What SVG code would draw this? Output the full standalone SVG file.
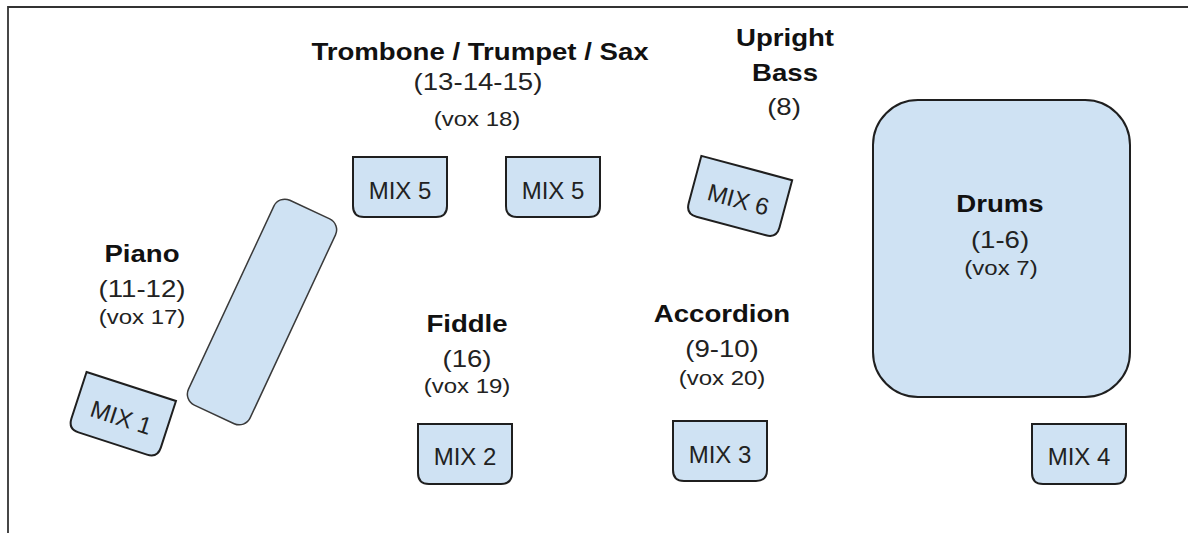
<svg xmlns="http://www.w3.org/2000/svg" width="1188" height="533" viewBox="0 0 1188 533">
<style>
.bg{fill:#ffffff}
.frame{fill:none;stroke:#333333;stroke-width:1.8}
.shape{fill:#cfe2f3;stroke:#1f1f1f;stroke-width:2}
.piano{fill:#cfe2f3;stroke:#3a3a3a;stroke-width:1.5}
.mix{font-family:"Liberation Sans",Arial,sans-serif;font-size:24px;fill:#222222;text-anchor:middle}
.b{font-family:"Liberation Sans",Arial,sans-serif;font-size:23px;font-weight:bold;fill:#111111;text-anchor:middle}
.r{font-family:"Liberation Sans",Arial,sans-serif;font-size:23px;fill:#222222;text-anchor:middle}
.v{font-family:"Liberation Sans",Arial,sans-serif;font-size:20px;fill:#222222;text-anchor:middle}
</style>
<defs>
<path id="wedge" d="M -47,-30 H 47 V 19 Q 47,30 36,30 H -36 Q -47,30 -47,19 Z"/>
</defs>
<rect class="bg" x="0" y="0" width="1188" height="533"/>
<path class="frame" d="M 8,533 V 7 H 1188"/>
<g id="connectors"/>

<g id="trombone-label">
<text class="b" transform="translate(480,60) scale(1.2,1)">Trombone / Trumpet / Sax</text>
<text class="r" transform="translate(478,90) scale(1.2,1)">(13-14-15)</text>
<text class="v" transform="translate(477,126) scale(1.2,1)">(vox 18)</text>
</g>
<g id="bass-label">
<text class="b" transform="translate(785,46) scale(1.2,1)">Upright</text>
<text class="b" transform="translate(785,81) scale(1.2,1)">Bass</text>
<text class="r" transform="translate(784,115) scale(1.2,1)">(8)</text>
</g>
<g id="piano-label">
<text class="b" transform="translate(142,262) scale(1.2,1)">Piano</text>
<text class="r" transform="translate(142,297) scale(1.2,1)">(11-12)</text>
<text class="v" transform="translate(142,324) scale(1.2,1)">(vox 17)</text>
</g>
<g id="fiddle-label">
<text class="b" transform="translate(467,332) scale(1.2,1)">Fiddle</text>
<text class="r" transform="translate(467,367) scale(1.2,1)">(16)</text>
<text class="v" transform="translate(467,393) scale(1.2,1)">(vox 19)</text>
</g>
<g id="accordion-label">
<text class="b" transform="translate(722,322) scale(1.2,1)">Accordion</text>
<text class="r" transform="translate(722,357) scale(1.2,1)">(9-10)</text>
<text class="v" transform="translate(722,385) scale(1.2,1)">(vox 20)</text>
</g>

<g id="drums">
<rect class="shape" x="873" y="100" width="257" height="297" rx="45"/>
<text class="b" transform="translate(1000,212) scale(1.2,1)">Drums</text>
<text class="r" transform="translate(1000,248) scale(1.2,1)">(1-6)</text>
<text class="v" transform="translate(1001,275) scale(1.2,1)">(vox 7)</text>
</g>

<g id="piano">
<rect class="piano" x="-34" y="-113" width="68" height="226" rx="12" transform="translate(262,312) rotate(25)"/>
</g>

<g id="mix1" transform="translate(122,415) rotate(18)">
<use href="#wedge" class="shape"/>
<text class="mix" x="0" y="11">MIX 1</text>
</g>
<g id="mix5a" transform="translate(400,187)">
<use href="#wedge" class="shape"/>
<text class="mix" x="0" y="12">MIX 5</text>
</g>
<g id="mix5b" transform="translate(553,187)">
<use href="#wedge" class="shape"/>
<text class="mix" x="0" y="12">MIX 5</text>
</g>
<g id="mix6" transform="translate(739,197) rotate(15)">
<use href="#wedge" class="shape"/>
<text class="mix" x="0" y="11">MIX 6</text>
</g>
<g id="mix2" transform="translate(465,454)">
<use href="#wedge" class="shape"/>
<text class="mix" x="0" y="11">MIX 2</text>
</g>
<g id="mix3" transform="translate(720,451)">
<use href="#wedge" class="shape"/>
<text class="mix" x="0" y="12">MIX 3</text>
</g>
<g id="mix4" transform="translate(1079,454)">
<use href="#wedge" class="shape"/>
<text class="mix" x="0" y="11">MIX 4</text>
</g>
</svg>
